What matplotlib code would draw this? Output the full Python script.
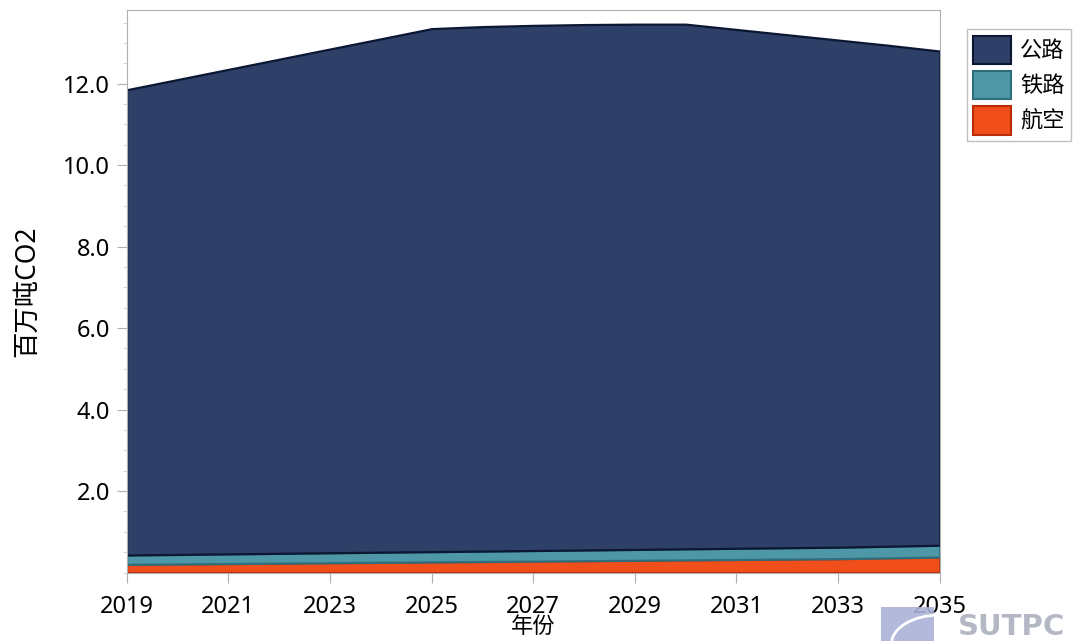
import matplotlib
matplotlib.use("Agg")
import matplotlib.pyplot as plt
from matplotlib.patches import Rectangle, Arc
from matplotlib.ticker import FormatStrFormatter, MultipleLocator

plt.rcParams['font.family'] = ['Noto Sans', 'Noto Sans CJK SC', 'DejaVu Sans']

years = list(range(2019, 2036))
total = [11.85, 12.10, 12.35, 12.60, 12.85, 13.10, 13.35, 13.40, 13.43,
         13.45, 13.46, 13.46, 13.33, 13.20, 13.07, 12.94, 12.80]
rail = [0.23, 0.234, 0.237, 0.241, 0.245, 0.249, 0.252, 0.256, 0.26,
        0.263, 0.267, 0.271, 0.275, 0.279, 0.282, 0.286, 0.29]
air = [0.20, 0.21, 0.22, 0.23, 0.24, 0.25, 0.26, 0.27, 0.28,
       0.29, 0.30, 0.31, 0.32, 0.33, 0.34, 0.36, 0.38]
road = [t - r - a for t, r, a in zip(total, rail, air)]

labels = ['公路', '铁路', '航空']
colors = ['#2e4068', '#4e97a6', '#f04e1a']
edges = ['#0b1733', '#2f6e7c', '#b82c08']

fig = plt.figure(figsize=(10.74, 6.44), dpi=100)
ax = fig.add_axes([0.118, 0.111, 0.757, 0.873])

polys = ax.stackplot(years, air, rail, road, colors=colors[::-1],
                     edgecolor='none')
for p, ec in zip(polys, edges[::-1]):
    p.set_edgecolor(ec)
    p.set_linewidth(1.6)

ax.set_xlim(2019, 2035)
ax.set_ylim(0, 13.8)
ax.set_xticks(range(2019, 2036, 2))
ax.set_yticks([2, 4, 6, 8, 10, 12])
ax.yaxis.set_major_formatter(FormatStrFormatter('%.1f'))
ax.yaxis.set_minor_locator(MultipleLocator(0.5))
ax.tick_params(axis='both', labelsize=17, color='#b0b0b0', length=7, pad=5)
ax.tick_params(axis='x', pad=9)
ax.tick_params(axis='y', which='minor', color='#d0d0d0', length=3)
for s in ax.spines.values():
    s.set_color('#b0b0b0')

ax.set_xlabel('年份', fontsize=16, labelpad=-1)
ax.set_ylabel('百万吨CO2', fontsize=19, labelpad=16)

handles = [Rectangle((0, 0), 1, 1, facecolor=c, edgecolor=e, linewidth=1.5)
           for c, e in zip(colors, edges)]
leg = fig.legend(handles, labels, loc='upper left',
                 bbox_to_anchor=(0.900, 0.955), fontsize=16, fancybox=False,
                 edgecolor='#b0b0b0', handlelength=1.7, handleheight=1.6,
                 handletextpad=0.4, borderpad=0.3, labelspacing=0.3,
                 borderaxespad=0.0)
leg.get_frame().set_linewidth(1.0)

# watermark
fig.patches.append(Rectangle((0.820, 0.005), 0.050, 0.052, transform=fig.transFigure,
                             facecolor='#aab2d6', edgecolor='none', alpha=0.9))
fig.patches.append(Arc((0.875, 0.0), 0.09, 0.09, theta1=90, theta2=180,
                       transform=fig.transFigure, color='white', linewidth=2))
fig.text(0.992, 0.005, 'SUTPC', fontsize=21, fontweight='bold',
         color='#b4b8c4', ha='right', va='bottom', family='DejaVu Sans')

fig.savefig('out.png', dpi=100)
